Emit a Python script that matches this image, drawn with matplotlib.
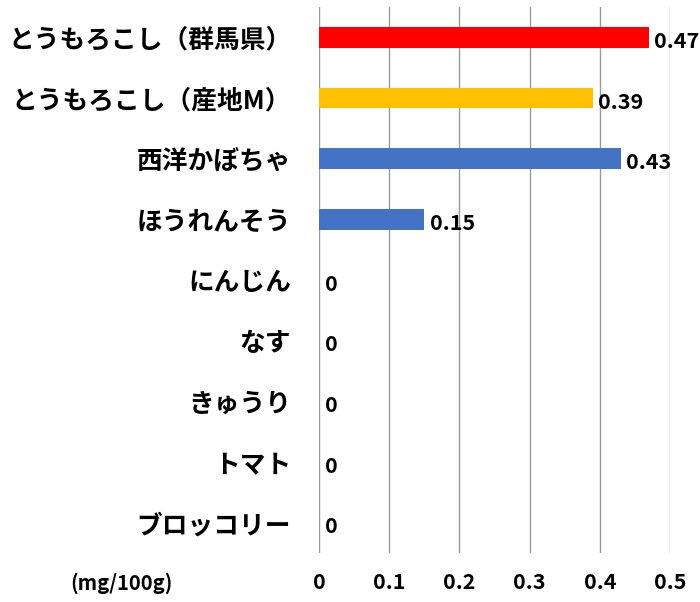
import matplotlib.pyplot as plt

plt.rcParams['font.family'] = ['Noto Sans CJK JP', 'DejaVu Sans']

# data (top to bottom)
categories = ['とうもろこし（群馬県）', 'とうもろこし（産地M）', '西洋かぼちゃ', 'ほうれんそう',
              'にんじん', 'なす', 'きゅうり', 'トマト', 'ブロッコリー']
values = [0.47, 0.39, 0.43, 0.15, 0, 0, 0, 0, 0]
colors = ['#FF0000', '#FFC000', '#4472C4', '#4472C4', '#4472C4',
          '#4472C4', '#4472C4', '#4472C4', '#4472C4']
xticks = [0, 0.1, 0.2, 0.3, 0.4, 0.5]
unit_label = '(mg/100g)'

fig = plt.figure(figsize=(7, 6.02), dpi=100)
ax = fig.add_axes([319 / 700, 1 - 553 / 602, 351 / 700, 546 / 602])

ypos = list(range(len(categories)))
ax.barh(ypos, values, height=0.34, color=colors, zorder=3)
ax.set_ylim(len(categories) - 0.5, -0.5)
ax.set_xlim(0, 0.5)

for y, v in zip(ypos, values):
    ax.annotate('{:g}'.format(v), xy=(v, y), xytext=(4, -3), textcoords='offset points',
                ha='left', va='center', fontsize=15.5, fontweight='bold', zorder=4)

ax.set_yticks(ypos)
ax.set_yticklabels(categories, fontsize=18.5, fontweight='bold')
ax.set_xticks(xticks)
ax.set_xticklabels(['{:g}'.format(t) for t in xticks], fontsize=15.5, fontweight='bold')
ax.tick_params(axis='y', length=0, pad=20)
ax.tick_params(axis='x', length=0, pad=14)
ax.grid(axis='x', color='#9a9a9a', linewidth=1, zorder=0)
for s in ax.spines.values():
    s.set_visible(False)

fig.text(70 / 700, 1 - 583 / 602, unit_label, fontsize=14.5, fontweight='bold',
         ha='left', va='center')

fig.savefig('out.png', dpi=100)
